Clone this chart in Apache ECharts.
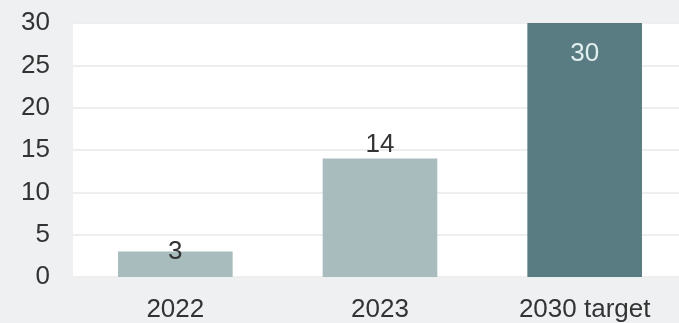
<!DOCTYPE html>
<html>
<head>
<meta charset="utf-8">
<script src="https://cdn.jsdelivr.net/npm/echarts@6/dist/echarts.min.js"></script>
<style>
  html, body { margin: 0; padding: 0; background: #eef0f1; }
  #chart { width: 679px; height: 323px; }
</style>
</head>
<body>
<div id="chart"></div>
<script>
// Categories and values
const categories = ['2022', '2023', '2030 target'];
const values = [3, 14, 30];
const yTicks = { min: 0, max: 30, interval: 5 };

const lightBar = '#a9bcbd';
const darkBar = '#587c81';
const textColor = '#333333';
const font = 'Liberation Sans, Arial, sans-serif';

const data = values.map((v, i) => {
  const item = { value: v, itemStyle: { color: i === 2 ? darkBar : lightBar } };
  if (i === 0) {
    item.label = { position: 'top', distance: -13 };
  } else if (i === 2) {
    item.label = { position: 'insideTop', distance: 18, color: '#e2eef0' };
  }
  return item;
});

const chart = echarts.init(document.getElementById('chart'), null, { renderer: 'canvas' });
chart.setOption({
  backgroundColor: '#eef0f1',
  animation: false,
  grid: {
    left: 73, top: 23, width: 614, height: 254,
    outerBoundsMode: 'none',
    show: true, backgroundColor: '#ffffff', borderWidth: 0
  },
  xAxis: {
    type: 'category',
    data: categories,
    axisLine: { show: false },
    axisTick: { show: false },
    axisLabel: { color: textColor, fontSize: 26, fontFamily: font, margin: 20 }
  },
  yAxis: {
    type: 'value',
    min: yTicks.min, max: yTicks.max, interval: yTicks.interval,
    axisLine: { show: false },
    axisTick: { show: false },
    splitLine: { lineStyle: { color: '#eeeeee', width: 2 } },
    axisLabel: { color: textColor, fontSize: 26, fontFamily: font, margin: 23 }
  },
  series: [{
    type: 'bar',
    data: data,
    barWidth: '56%',
    label: {
      show: true, position: 'top', distance: 1,
      color: textColor, fontSize: 26, fontFamily: font
    }
  }]
});
</script>
</body>
</html>
